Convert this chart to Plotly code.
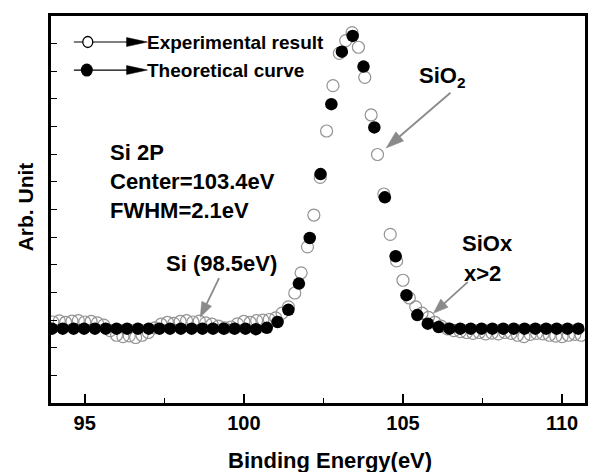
import math
import plotly.graph_objects as go

# ---------------- data ----------------
exp_x = [94.0, 94.2, 94.4, 94.6, 94.8, 95.0, 95.2, 95.4, 95.6, 95.8,
         96.0, 96.2, 96.4, 96.6, 96.8, 97.0, 97.2, 97.4, 97.6, 97.8,
         98.0, 98.2, 98.4, 98.6, 98.8, 99.0, 99.2, 99.4, 99.6, 99.8,
         100.0, 100.2, 100.4, 100.6, 100.8, 101.0, 101.2, 101.4, 101.6, 101.8,
         102.0, 102.2, 102.4, 102.6, 102.8, 103.0, 103.2, 103.4, 103.6, 103.8,
         104.0, 104.2, 104.4, 104.6, 104.8, 105.0, 105.2, 105.4, 105.6, 105.8,
         106.0, 106.2, 106.4, 106.6, 106.8, 107.0, 107.2, 107.4, 107.6, 107.8,
         108.0, 108.2, 108.4, 108.6, 108.8, 109.0, 109.2, 109.4, 109.6, 109.8,
         110.0, 110.2, 110.4, 110.6]
exp_y = [2.93, 2.97, 2.92, 2.96, 2.98, 2.93, 2.95, 2.90, 2.82, 2.62,
         2.45, 2.40, 2.43, 2.37, 2.45, 2.55, 2.72, 2.85, 2.92, 2.88,
         2.95, 2.98, 2.93, 2.96, 2.90, 2.85, 2.78, 2.72, 2.75, 2.86,
         2.95, 2.92, 2.98, 3.00, 3.02, 3.08, 3.25, 3.48, 3.98, 4.71,
         5.65, 6.80, 8.16, 9.84, 11.48, 12.65, 13.11, 13.40, 12.87, 11.78,
         10.42, 8.99, 7.56, 6.10, 5.14, 4.44, 3.80, 3.48, 3.25, 3.10,
         2.92, 2.78, 2.68, 2.62, 2.58, 2.55, 2.52, 2.55, 2.50, 2.53,
         2.50, 2.55, 2.52, 2.45, 2.40, 2.48, 2.52, 2.50, 2.45, 2.42,
         2.40, 2.45, 2.48, 2.45]

theo_x = [93.97, 94.31, 94.65, 94.98, 95.32, 95.66, 96.00, 96.33, 96.67, 97.01,
          97.35, 97.68, 98.02, 98.36, 98.70, 99.03, 99.37, 99.71, 100.05, 100.38,
          100.72, 101.06, 101.40, 101.73, 102.07, 102.41, 102.75, 103.08, 103.42, 103.76,
          104.10, 104.43, 104.77, 105.11, 105.45, 105.78, 106.12, 106.46, 106.80, 107.13,
          107.47, 107.81, 108.15, 108.48, 108.82, 109.16, 109.50, 109.83, 110.17, 110.51]
theo_y = [2.69, 2.69, 2.69, 2.69, 2.69, 2.69, 2.69, 2.69, 2.69, 2.69,
          2.69, 2.69, 2.69, 2.69, 2.69, 2.69, 2.69, 2.69, 2.69, 2.67,
          2.72, 2.93, 3.37, 4.32, 5.97, 8.28, 10.81, 12.71, 13.28, 12.17,
          9.97, 7.44, 5.31, 3.90, 3.18, 2.87, 2.75, 2.69, 2.69, 2.69,
          2.69, 2.69, 2.69, 2.69, 2.69, 2.69, 2.69, 2.69, 2.69, 2.69]

x_ticks = [95, 100, 105, 110]
x_tick_labels = ["95", "100", "105", "110"]

# ---------------- layout geometry (pixels) ----------------
W, H = 594, 472
PL, PR, PT, PB = 51, 588, 16, 402.7
FONT = "Liberation Sans, Arial, Helvetica, sans-serif"


def px(x):
    return (x - PL) / (PR - PL)


def py(y):
    return (PB - y) / (PB - PT)


def arrow(tail, tip, color, lw, hl, hw):
    (x0, y0), (x1, y1) = tail, tip
    d = math.hypot(x1 - x0, y1 - y0)
    ux, uy = (x1 - x0) / d, (y1 - y0) / d
    bx, by = x1 - ux * hl, y1 - uy * hl
    nx, ny = -uy, ux
    c1 = (bx + nx * hw, by + ny * hw)
    c2 = (bx - nx * hw, by - ny * hw)
    line = dict(type="line", xref="paper", yref="paper",
                x0=px(x0), y0=py(y0), x1=px(bx + ux * 1), y1=py(by + uy * 1),
                line=dict(color=color, width=lw))
    path = "M {},{} L {},{} L {},{} Z".format(px(x1), py(y1), px(c1[0]), py(c1[1]),
                                              px(c2[0]), py(c2[1]))
    head = dict(type="path", xref="paper", yref="paper", path=path,
                fillcolor=color, line=dict(color=color, width=0.5))
    return [line, head]


fig = go.Figure()
fig.add_trace(go.Scatter(x=exp_x, y=exp_y, mode="markers", name="Experimental result",
                         marker=dict(symbol="circle-open", size=12,
                                     line=dict(color="#939393", width=1.2), color="#939393")))
fig.add_trace(go.Scatter(x=theo_x, y=theo_y, mode="markers", name="Theoretical curve",
                         marker=dict(symbol="circle", size=12.5, color="black",
                                     line=dict(width=0))))

shapes = []
# legend lines and heads
for yy in (42, 70):
    shapes += arrow((74, yy), (148, yy), "black", 1.2, 21, 4.5)
# legend circles
shapes.append(dict(type="circle", xref="paper", yref="paper", xsizemode="pixel", ysizemode="pixel",
                   xanchor=px(88), yanchor=py(42), x0=-5, x1=5, y0=-5.5, y1=5.5,
                   fillcolor="white", line=dict(color="black", width=1.3)))
shapes.append(dict(type="circle", xref="paper", yref="paper", xsizemode="pixel", ysizemode="pixel",
                   xanchor=px(87), yanchor=py(70), x0=-6, x1=6, y0=-6.5, y1=6.5,
                   fillcolor="black", line=dict(color="black", width=0)))
# gray pointer arrows
shapes += arrow((452.7, 92.7), (388, 148), "#8a8a8a", 1.8, 18, 6)
shapes += arrow((470, 282), (435.5, 313), "#8a8a8a", 1.8, 15, 5.5)
shapes += arrow((220, 278), (201, 317), "#8a8a8a", 1.8, 15, 5.5)

ann = []


def text(t, x, y, size, xanchor="left", angle=0):
    ann.append(dict(text=t, x=px(x), y=py(y), xref="paper", yref="paper",
                    xanchor=xanchor, yanchor="middle", showarrow=False, textangle=angle,
                    font=dict(family=FONT, size=size, color="black", weight="bold")))


text("Experimental result", 146, 42, 19)
text("Theoretical curve", 146, 70, 19)
text("Si 2P", 108, 152, 22)
text("Center=103.4eV", 108, 181, 22)
text("FWHM=2.1eV", 108, 210, 22)
text("SiO<sub>2</sub>", 419, 77, 22)
text("SiOx", 462, 243, 22)
text("x>2", 464, 273, 22)
text("Si (98.5eV)", 165, 263, 22)
text("Arb. Unit", 25, 207, 21, xanchor="center", angle=-90)
text("Binding Energy(eV)", 332, 460, 22, xanchor="center")

fig.update_layout(
    width=W, height=H,
    margin=dict(l=PL, r=W - PR, t=PT, b=H - PB, pad=0),
    paper_bgcolor="white", plot_bgcolor="white",
    showlegend=False,
    shapes=shapes, annotations=ann,
    xaxis=dict(range=[93.94, 110.72], tickvals=x_ticks, ticktext=x_tick_labels,
               ticks="inside", ticklen=9, tickwidth=1.5, tickcolor="black",
               showline=True, linewidth=2.5, linecolor="black", mirror=True,
               showgrid=False, zeroline=False,
               tickfont=dict(family=FONT, size=20, color="black", weight="bold"),
               minor=dict(dtick=2.5, tick0=95, ticks="inside", ticklen=5, tickwidth=1.2,
                          tickcolor="black", showgrid=False)),
    yaxis=dict(range=[0, 14], dtick=1, tick0=0, ticks="inside", ticklen=6, tickwidth=1.2,
               tickcolor="black", showticklabels=False,
               showline=True, linewidth=2.5, linecolor="black", mirror=True,
               showgrid=False, zeroline=False),
)

fig.write_html("out.html")
